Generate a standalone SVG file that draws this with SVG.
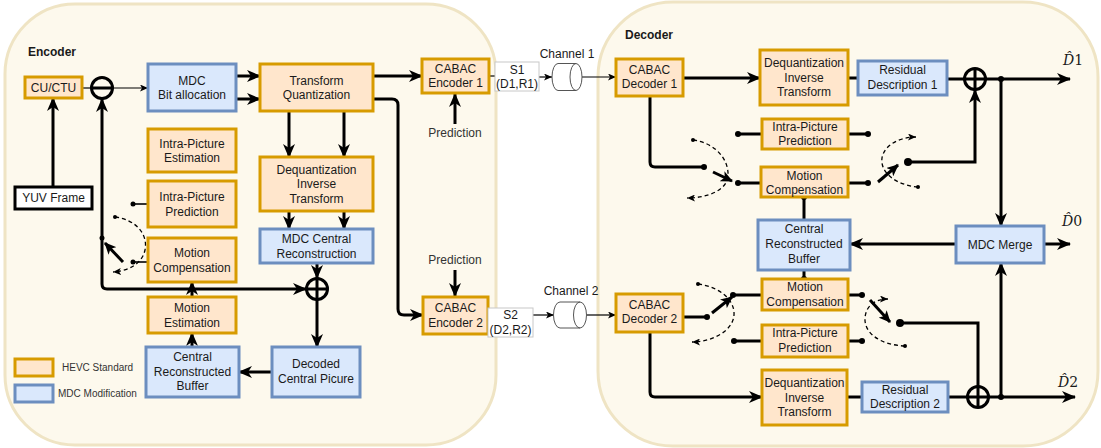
<svg xmlns="http://www.w3.org/2000/svg" width="1101" height="448" viewBox="0 0 1101 448">
<style>
.cont{fill:#fdf9ed;stroke:#efe4c4;stroke-width:3}
.o{fill:#ffe6cc;stroke:#d79b00;stroke-width:3}
.b{fill:#dae8fc;stroke:#6c8ebf;stroke-width:3}
text{font-family:"Liberation Sans",Arial,sans-serif;font-size:12px;fill:#1a1a1a}
.c{text-anchor:middle}
.title{font-weight:bold}
.lg{font-size:10px;fill:#333}
.gr{fill:#333}
.th{stroke:#000;stroke-width:3;fill:none}
.tn{stroke:#000;stroke-width:1.2;fill:none}
.ds{stroke:#000;stroke-width:1.3;fill:none;stroke-dasharray:4 3}
.dot{fill:#000}
.hat{font-family:"DejaVu Serif","Liberation Serif",serif;font-size:14px}
</style>
<defs>
<marker id="ah" markerUnits="userSpaceOnUse" markerWidth="14" markerHeight="12" viewBox="0 0 14 12" refX="13" refY="6" orient="auto"><path d="M0,0 L14,6 L0,12 L4,6 Z" fill="#000"/></marker>
<marker id="as" markerUnits="userSpaceOnUse" markerWidth="12" markerHeight="11" viewBox="0 0 12 11" refX="11" refY="5.5" orient="auto"><path d="M0,0 L12,5.5 L0,11 L3,5.5 Z" fill="#000"/></marker>
<marker id="at" markerUnits="userSpaceOnUse" markerWidth="8" markerHeight="7" viewBox="0 0 8 7" refX="8" refY="3.5" orient="auto"><path d="M0,0 L8,3.5 L0,7 L2,3.5 Z" fill="#000"/></marker>
</defs>

<g id="encoder-container"><rect x="5" y="4" width="491" height="441" rx="70" class="cont"/><text x="28" y="56" class="title">Encoder</text></g>
<g id="decoder-container"><rect x="598" y="2" width="500" height="444" rx="75" class="cont"/><text x="625" y="39" class="title">Decoder</text></g>

<g id="connectors">
<!-- encoder -->
<path class="th" d="M53,187 L53,98" marker-end="url(#ah)"/>
<path class="tn" d="M82,88 L91,88"/>
<path class="tn" d="M113,88 L148,88" marker-end="url(#at)"/>
<path class="th" d="M102,238 L102,99" marker-end="url(#ah)"/>
<path class="th" d="M102,238 L102,284 Q102,289 107,289 L306,289" marker-end="url(#ah)"/>
<path class="th" d="M236,76 L260,76" marker-end="url(#ah)"/>
<path class="th" d="M236,99 L260,99" marker-end="url(#ah)"/>
<path class="th" d="M373,76 L422,76" marker-end="url(#ah)"/>
<path class="th" d="M373,99 L392,99 Q398,99 398,105 L398,309 Q398,315 404,315 L423,315" marker-end="url(#ah)"/>
<path class="th" d="M289,111 L289,157" marker-end="url(#ah)"/>
<path class="th" d="M344,111 L344,157" marker-end="url(#ah)"/>
<path class="th" d="M289,211 L289,229" marker-end="url(#ah)"/>
<path class="th" d="M344,211 L344,229" marker-end="url(#ah)"/>
<path class="th" d="M317,263 L317,278" marker-end="url(#ah)"/>
<path class="th" d="M317,300 L317,347" marker-end="url(#ah)"/>
<path class="th" d="M272,372 L239,372" marker-end="url(#ah)"/>
<path class="th" d="M192,347 L192,333" marker-end="url(#ah)"/>
<path class="th" d="M192,297 L192,282" marker-end="url(#ah)"/>
<path class="tn" d="M133,204 L148,204" style="stroke-width:1.6"/>
<path class="tn" d="M133,262 L148,262" style="stroke-width:1.6"/>
<circle class="dot" cx="133" cy="204" r="2.5"/>
<circle class="dot" cx="133" cy="262" r="2.5"/>
<circle class="dot" cx="102" cy="238" r="2.5"/>
<circle class="dot" cx="115" cy="217" r="2"/>
<path class="th" d="M123,262 L105,243" marker-end="url(#as)"/>
<path class="ds" d="M115,217 C138,220 148,236 145,250 C142,264 128,271 113,272" marker-end="url(#at)"/>
<path class="th" d="M455,124 L455,94" marker-end="url(#ah)"/>
<path class="th" d="M455,270 L455,296" marker-end="url(#ah)"/>
<!-- channels -->
<path class="tn" d="M489,76 L495,76"/>
<path class="tn" d="M539,77 L552,77" marker-end="url(#at)"/>
<path class="tn" d="M582,77 L616,77" marker-end="url(#at)"/>
<path class="tn" d="M487,315 L488,315"/>
<path class="tn" d="M533,315 L554,315" marker-end="url(#at)"/>
<path class="tn" d="M587,315 L616,315" marker-end="url(#at)"/>
<!-- decoder -->
<path class="th" d="M683,78 L760,78" marker-end="url(#ah)"/>
<path class="th" d="M848,78 L858,78"/>
<circle class="dot" cx="859" cy="78" r="2.5"/>
<path class="th" d="M947,79 L964,79"/>
<path class="th" d="M986,79 L1070,79" marker-end="url(#ah)"/>
<circle class="dot" cx="1001" cy="79" r="3"/>
<path class="th" d="M1001,79 L1001,226" marker-end="url(#ah)"/>
<path class="th" d="M908,162 L975,162 L975,90" marker-end="url(#ah)"/>
<circle class="dot" cx="908" cy="162" r="4"/>
<path class="th" d="M650,96 L650,162 Q650,167 655,167 L704,167"/>
<circle class="dot" cx="704" cy="167" r="3"/>
<path class="th" d="M738,134 L762,134"/><path class="th" d="M848,134 L868,134"/>
<circle class="dot" cx="738" cy="134" r="3"/><circle class="dot" cx="868" cy="134" r="3"/>
<path class="th" d="M738,183 L761,183"/><path class="th" d="M848,183 L868,183"/>
<circle class="dot" cx="738" cy="183" r="3"/><circle class="dot" cx="868" cy="183" r="3"/>
<path class="th" d="M804,197 L804,220"/>
<circle class="dot" cx="804" cy="197" r="3"/>
<path class="th" d="M713,172 L732,181" marker-end="url(#as)"/>
<path class="ds" d="M693,140 C716,143 729,160 728,176 C727,190 708,198 687,198" marker-end="url(#at)"/>
<circle class="dot" cx="693" cy="140" r="2"/>
<path class="th" d="M878,182 L898,165" marker-end="url(#as)"/>
<path class="ds" d="M918,187 C895,185 880,172 882,158 C884,145 900,137 916,137" marker-end="url(#at)"/>
<circle class="dot" cx="918" cy="187" r="2"/>
<path class="th" d="M956,244 L850,244" marker-end="url(#ah)"/>
<path class="th" d="M1044,244 L1070,244" marker-end="url(#ah)"/>
<path class="th" d="M804,270 L804,279"/>
<circle class="dot" cx="804" cy="279" r="3"/>
<path class="th" d="M683,317 L707,317"/>
<circle class="dot" cx="707" cy="317" r="3"/>
<path class="th" d="M712,313 L732,297" marker-end="url(#as)"/>
<path class="ds" d="M698,284 C720,287 735,300 734,315 C733,331 712,342 692,342" marker-end="url(#at)"/>
<circle class="dot" cx="698" cy="284" r="2"/>
<path class="th" d="M733,295 L762,295"/><path class="th" d="M848,295 L862,295"/>
<circle class="dot" cx="733" cy="295" r="3"/><circle class="dot" cx="862" cy="295" r="3"/>
<path class="th" d="M734,341 L762,341"/><path class="th" d="M848,341 L862,341"/>
<circle class="dot" cx="734" cy="341" r="3"/><circle class="dot" cx="862" cy="341" r="3"/>
<path class="th" d="M870,300 L890,322" marker-end="url(#as)"/>
<path class="ds" d="M905,346 C880,345 864,333 865,318 C866,305 876,299 888,299" marker-end="url(#at)"/>
<circle class="dot" cx="905" cy="346" r="2"/>
<path class="th" d="M900,323 L978,323 L978,386"/>
<circle class="dot" cx="900" cy="323" r="4"/>
<path class="th" d="M650,332 L650,392 Q650,397 655,397 L762,397" marker-end="url(#ah)"/>
<path class="th" d="M847,397 L862,397"/>
<path class="th" d="M948,397 L967,397"/>
<path class="th" d="M989,397 L1075,397" marker-end="url(#ah)"/>
<circle class="dot" cx="1001" cy="397" r="3"/>
<path class="th" d="M1001,397 L1001,263" marker-end="url(#ah)"/>
</g>

<g id="minus"><circle cx="102" cy="88" r="10.5" fill="none" stroke="#000" stroke-width="3"/><path d="M91.5,88 L112.5,88" stroke="#000" stroke-width="3"/></g>
<g id="plus-enc"><circle cx="317" cy="289" r="10.5" fill="none" stroke="#000" stroke-width="3"/><path d="M306.5,289 L327.5,289 M317,278.5 L317,299.5" stroke="#000" stroke-width="3"/></g>
<g id="plus-d1"><circle cx="975" cy="79" r="10.5" fill="none" stroke="#000" stroke-width="3"/><path d="M964.5,79 L985.5,79 M975,68.5 L975,89.5" stroke="#000" stroke-width="3"/></g>
<g id="plus-d2"><circle cx="978" cy="397" r="10.5" fill="none" stroke="#000" stroke-width="3"/><path d="M967.5,397 L988.5,397 M978,386.5 L978,407.5" stroke="#000" stroke-width="3"/></g>

<g id="cu"><rect x="25" y="77" width="57" height="21" class="o"/><text x="53.5" y="92" class="c">CU/CTU</text></g>
<g id="yuv"><rect x="15" y="187" width="77" height="22" fill="#fff" stroke="#000" stroke-width="3"/><text x="53.5" y="202" class="c">YUV Frame</text></g>
<g id="mdc-bit"><rect x="148" y="64" width="88" height="47" class="b"/><text x="192" y="84.5" class="c">MDC</text><text x="192" y="99" class="c">Bit allocation</text></g>
<g id="tq"><rect x="260" y="64" width="113" height="47" class="o"/><text x="316.5" y="84.5" class="c">Transform</text><text x="316.5" y="99" class="c">Quantization</text></g>
<g id="cabac-e1"><rect x="422" y="59" width="67" height="34" class="o"/><text x="455.5" y="73" class="c">CABAC</text><text x="455.5" y="87" class="c">Encoder 1</text></g>
<g id="pred1"><text x="455" y="137" class="c gr">Prediction</text></g>
<g id="ipe"><rect x="148" y="129" width="88" height="43" class="o"/><text x="192" y="148" class="c">Intra-Picture</text><text x="192" y="162" class="c">Estimation</text></g>
<g id="ipp-e"><rect x="148" y="181" width="88" height="46" class="o"/><text x="192" y="201" class="c">Intra-Picture</text><text x="192" y="215.5" class="c">Prediction</text></g>
<g id="dit-e"><rect x="260" y="157" width="113" height="54" class="o"/><text x="316.5" y="173.5" class="c">Dequantization</text><text x="316.5" y="188" class="c">Inverse</text><text x="316.5" y="202.5" class="c">Transform</text></g>
<g id="mcr"><rect x="260" y="229" width="113" height="34" class="b"/><text x="316.5" y="243" class="c">MDC Central</text><text x="316.5" y="257.5" class="c">Reconstruction</text></g>
<g id="mc-e"><rect x="148" y="238" width="88" height="44" class="o"/><text x="192" y="257" class="c">Motion</text><text x="192" y="272" class="c">Compensation</text></g>
<g id="me"><rect x="148" y="297" width="88" height="36" class="o"/><text x="192" y="312" class="c">Motion</text><text x="192" y="327" class="c">Estimation</text></g>
<g id="crb-e"><rect x="146" y="347" width="93" height="50" class="b"/><text x="192.5" y="361" class="c">Central</text><text x="192.5" y="376" class="c">Reconstructed</text><text x="192.5" y="390" class="c">Buffer</text></g>
<g id="dcp"><rect x="272" y="347" width="88" height="50" class="b"/><text x="316" y="368" class="c">Decoded</text><text x="316" y="383" class="c">Central Picure</text></g>
<g id="cabac-e2"><rect x="423" y="297" width="65" height="37" class="o"/><text x="455.5" y="312" class="c">CABAC</text><text x="455.5" y="327" class="c">Encoder 2</text></g>
<g id="pred2"><text x="455" y="264" class="c gr">Prediction</text></g>
<g id="legend"><rect x="15" y="359" width="38" height="17" class="o"/><text x="62" y="371" class="lg">HEVC Standard</text><rect x="15" y="385" width="38" height="17" class="b"/><text x="58" y="397" class="lg">MDC Modification</text></g>

<g id="s1"><rect x="495" y="62" width="44" height="29" fill="#fff" stroke="#c8c8c8" stroke-width="1"/><text x="517" y="74" class="c">S1</text><text x="517" y="87.5" class="c">(D1,R1)</text></g>
<g id="s2"><rect x="488" y="308" width="45" height="29" fill="#fff" stroke="#c8c8c8" stroke-width="1"/><text x="510.5" y="319" class="c">S2</text><text x="510.5" y="334" class="c">(D2,R2)</text></g>
<g id="channel1"><text x="567" y="58" class="c">Channel 1</text><path d="M558,63.5 L576,63.5 A6,13.5 0 0 1 576,90.5 L558,90.5 A6,13.5 0 0 1 558,63.5 Z" fill="#fff" stroke="#555" stroke-width="1"/><path d="M576,63.5 A6,13.5 0 0 0 576,90.5" fill="none" stroke="#555" stroke-width="1"/></g>
<g id="channel2"><text x="571" y="295" class="c">Channel 2</text><path d="M560,302 L580,302 A6.5,13 0 0 1 580,328 L560,328 A6.5,13 0 0 1 560,302 Z" fill="#fff" stroke="#555" stroke-width="1"/><path d="M580,302 A6.5,13 0 0 0 580,328" fill="none" stroke="#555" stroke-width="1"/></g>

<g id="cabac-d1"><rect x="616" y="59" width="67" height="37" class="o"/><text x="649.5" y="74" class="c">CABAC</text><text x="649.5" y="88" class="c">Decoder 1</text></g>
<g id="deq1"><rect x="760" y="50" width="88" height="55" class="o"/><text x="804" y="67" class="c">Dequantization</text><text x="804" y="81.5" class="c">Inverse</text><text x="804" y="96" class="c">Transform</text></g>
<g id="res1"><rect x="858" y="61" width="89" height="34" class="b"/><text x="902.5" y="74" class="c">Residual</text><text x="902.5" y="88.5" class="c">Description 1</text></g>
<g id="ipp-d1"><rect x="762" y="119" width="86" height="30" class="o"/><text x="805" y="131" class="c">Intra-Picture</text><text x="805" y="145" class="c">Prediction</text></g>
<g id="mc-d1"><rect x="761" y="167" width="87" height="30" class="o"/><text x="804.5" y="180" class="c">Motion</text><text x="804.5" y="194" class="c">Compensation</text></g>
<g id="crb-d"><rect x="758" y="220" width="92" height="50" class="b"/><text x="804" y="233" class="c">Central</text><text x="804" y="248" class="c">Reconstructed</text><text x="804" y="263" class="c">Buffer</text></g>
<g id="merge"><rect x="956" y="226" width="88" height="37" class="b"/><text x="1000" y="248.5" class="c">MDC Merge</text></g>
<g id="mc-d2"><rect x="762" y="279" width="86" height="31" class="o"/><text x="805" y="291" class="c">Motion</text><text x="805" y="306" class="c">Compensation</text></g>
<g id="cabac-d2"><rect x="616" y="294" width="67" height="38" class="o"/><text x="649.5" y="309" class="c">CABAC</text><text x="649.5" y="323" class="c">Decoder 2</text></g>
<g id="ipp-d2"><rect x="762" y="325" width="86" height="32" class="o"/><text x="805" y="337" class="c">Intra-Picture</text><text x="805" y="351.5" class="c">Prediction</text></g>
<g id="deq2"><rect x="762" y="370" width="85" height="55" class="o"/><text x="804.5" y="387" class="c">Dequantization</text><text x="804.5" y="401.5" class="c">Inverse</text><text x="804.5" y="416" class="c">Transform</text></g>
<g id="res2"><rect x="862" y="382" width="86" height="30" class="b"/><text x="905" y="394" class="c">Residual</text><text x="905" y="408" class="c">Description 2</text></g>

<g id="outputs"><text x="1063" y="65" class="hat"><tspan font-style="italic">D̂</tspan>1</text><text x="1062" y="226" class="hat"><tspan font-style="italic">D̂</tspan>0</text><text x="1058" y="387" class="hat"><tspan font-style="italic">D̂</tspan>2</text></g>
</svg>
